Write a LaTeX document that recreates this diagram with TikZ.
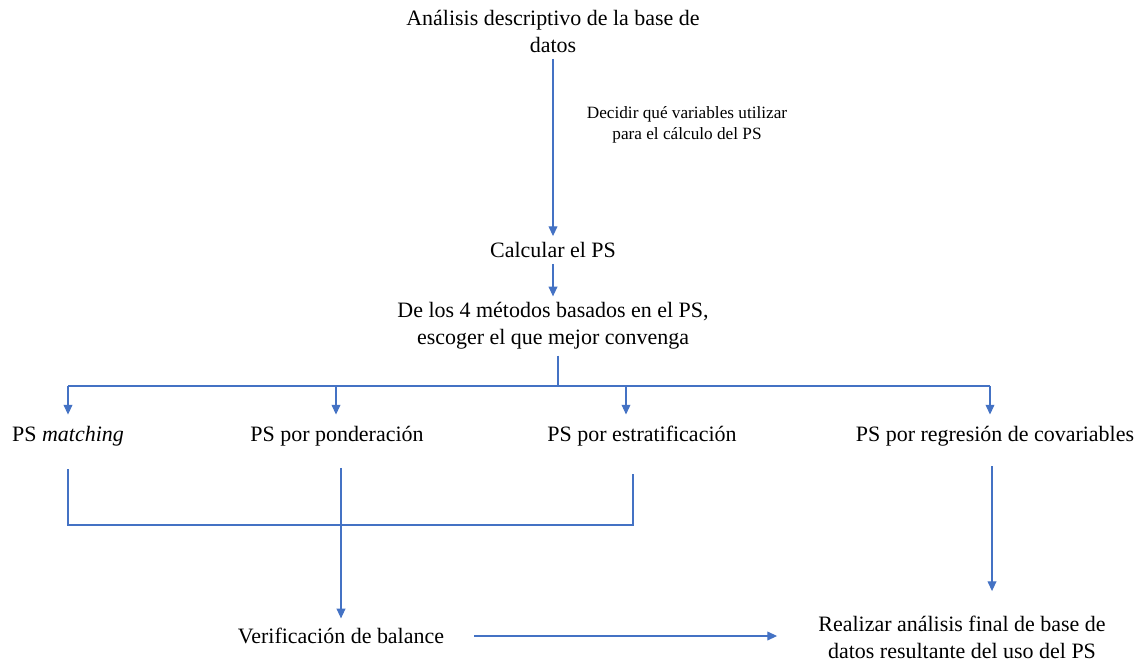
\documentclass[tikz,border=0pt]{standalone}
\usepackage{fontspec}
\setmainfont{Liberation Serif}
\usetikzlibrary{arrows.meta,calc,positioning}
\definecolor{FlowBlue}{HTML}{4472C4}
\tikzset{
  steptext/.style={align=center,font=\fontsize{12.5}{15.3}\selectfont},
  notetext/.style={align=center,font=\fontsize{9.8}{12}\selectfont},
  link/.style={FlowBlue,line width=0.6pt},
  flow/.style={link,-{Triangle[width=5pt,length=5.5pt]}}
}
\begin{document}
\begin{tikzpicture}[x=0.02cm,y=-0.02cm]

        \useasboundingbox (0,0) rectangle (1138,661);

        % steps
        \node[steptext] (desc) at (553,31.5)
          {Análisis descriptivo de la base de\\datos};
        \node[notetext] (note) at (687,124.5)
          {Decidir qué variables utilizar\\para el cálculo del PS};
        \node[steptext] (calc) at (553,250) {Calcular el PS};
        \node[steptext] (metodos) at (553,326)
          {De los 4 métodos basados en el PS,\\escoger el que mejor convenga};

        % methods
        \node[steptext] (match) at (68,436) {PS \textit{matching}};
        \node[steptext] (ponder) at (337,436) {PS por ponderación};
        \node[steptext] (estrat) at (642,436) {PS por estratificación};
        \node[steptext] (regr) at (995,436) {PS por regresión de covariables};

        % last steps
        \node[steptext] (verif) at (341,636) {Verificación de balance};
        \node[steptext] (final) at (962,637)
          {Realizar análisis final de base de\\datos resultante del uso del PS};

        % bus points
        \coordinate (bus) at (558,386);
        \coordinate (b1) at (68,386);
        \coordinate (b2) at (336,386);
        \coordinate (b3) at (626,386);
        \coordinate (b4) at (990,386);
        \coordinate (j1) at (68,525);
        \coordinate (j3) at (633,525);

        \draw[flow] (desc) -- (calc);
        \draw[flow] (calc) -- (metodos);
        \draw[link] (metodos.south -| bus) -- (bus);
        \draw[link] (b1) -- (b4);
        \draw[flow,shorten >=3pt] (b1) -- (b1 |- match.north);
        \draw[flow,shorten >=3pt] (b2) -- (b2 |- ponder.north);
        \draw[flow,shorten >=3pt] (b3) -- (b3 |- estrat.north);
        \draw[flow,shorten >=3pt] (b4) -- (b4 |- regr.north);

        \draw[link] (match.south) ++(0,17) -- (j1) -- (j3)
          -- ($(j3 |- estrat.south)+(0,22)$);
        \draw[flow,shorten <=9pt,shorten >=2pt]
          (ponder.south -| verif) -- (verif);
        \draw[flow,shorten <=8pt,shorten >=10.5pt]
          (regr.south -| 992,0) -- (final.north -| 992,0);
        \draw[flow,shorten <=13.6pt,shorten >=20pt]
          (verif.east) -- (verif.east -| final.west);

      \end{tikzpicture}
\end{document}
